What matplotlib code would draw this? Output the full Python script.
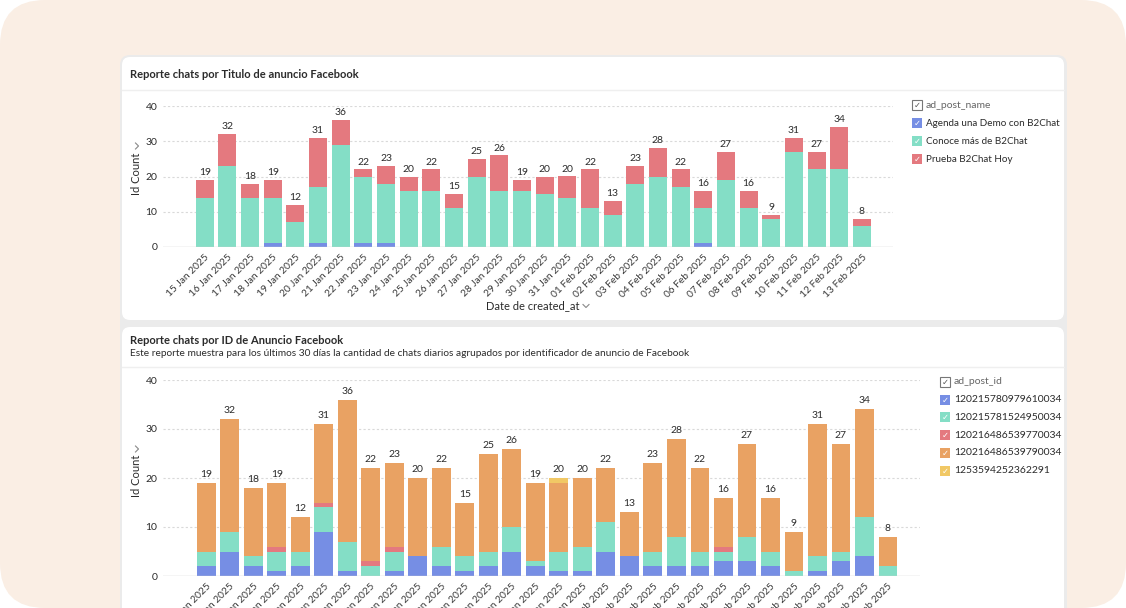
import numpy as np
import matplotlib
matplotlib.use("Agg")
import matplotlib.pyplot as plt
from matplotlib.patches import FancyBboxPatch, Rectangle

plt.rcParams["font.family"] = ["Lato", "DejaVu Sans"]

# ---------------- data ----------------
dates = ["15 Jan 2025", "16 Jan 2025", "17 Jan 2025", "18 Jan 2025", "19 Jan 2025",
         "20 Jan 2025", "21 Jan 2025", "22 Jan 2025", "23 Jan 2025", "24 Jan 2025",
         "25 Jan 2025", "26 Jan 2025", "27 Jan 2025", "28 Jan 2025", "29 Jan 2025",
         "30 Jan 2025", "31 Jan 2025", "01 Feb 2025", "02 Feb 2025", "03 Feb 2025",
         "04 Feb 2025", "05 Feb 2025", "06 Feb 2025", "07 Feb 2025", "08 Feb 2025",
         "09 Feb 2025", "10 Feb 2025", "11 Feb 2025", "12 Feb 2025", "13 Feb 2025"]

# top chart: by ad title
agenda = [0, 0, 0, 1, 0, 1, 0, 1, 1, 0, 0, 0, 0, 0, 0, 0, 0, 0, 0, 0, 0, 0, 1, 0, 0, 0, 0, 0, 0, 0]
conoce = [14, 23, 14, 13, 7, 16, 29, 19, 17, 16, 16, 11, 20, 16, 16, 15, 14, 11, 9, 18, 20, 17, 10, 19, 11, 8, 27, 22, 22, 6]
prueba = [5, 9, 4, 5, 5, 14, 7, 2, 5, 4, 6, 4, 5, 10, 3, 5, 6, 11, 4, 5, 8, 5, 5, 8, 5, 1, 4, 5, 12, 2]
title_names = ["Agenda una Demo con B2Chat", "Conoce más de B2Chat", "Prueba B2Chat Hoy"]

# bottom chart: by ad id
id_a = [2, 5, 2, 1, 2, 9, 1, 0, 1, 4, 2, 1, 2, 5, 2, 1, 1, 5, 4, 2, 2, 2, 3, 3, 2, 0, 1, 3, 4, 0]
id_b = [3, 4, 2, 4, 3, 5, 6, 2, 4, 0, 4, 3, 3, 5, 1, 4, 5, 6, 0, 3, 6, 3, 2, 5, 3, 1, 3, 2, 8, 2]
id_c = [0, 0, 0, 1, 0, 1, 0, 1, 1, 0, 0, 0, 0, 0, 0, 0, 0, 0, 0, 0, 0, 0, 1, 0, 0, 0, 0, 0, 0, 0]
id_d = [14, 23, 14, 13, 7, 16, 29, 19, 17, 16, 16, 11, 20, 16, 16, 14, 14, 11, 9, 18, 20, 17, 10, 19, 11, 8, 27, 22, 22, 6]
id_e = [0, 0, 0, 0, 0, 0, 0, 0, 0, 0, 0, 0, 0, 0, 0, 1, 0, 0, 0, 0, 0, 0, 0, 0, 0, 0, 0, 0, 0, 0]
id_names = ["120215780979610034", "120215781524950034", "120216486539770034",
            "120216486539790034", "1253594252362291"]

BLUE = "#768ee4"
TEAL = "#84dec6"
RED = "#e4797f"
ORANGE = "#e9a263"
YELLOW = "#f1c865"
TXT = "#2b2b2b"

W, H = 1126, 608
fig = plt.figure(figsize=(W / 100, H / 100), dpi=100)
fig.patch.set_facecolor("white")

# background axes in pixel coords
bg = fig.add_axes([0, 0, 1, 1])
bg.set_xlim(0, W)
bg.set_ylim(H, 0)
bg.axis("off")

bg.add_patch(FancyBboxPatch((0, 0), W, H, boxstyle="round,pad=0,rounding_size=45",
                            fc="#faeee4", ec="none"))
bg.add_patch(FancyBboxPatch((120, 55), 947, 600, boxstyle="round,pad=0,rounding_size=10",
                            fc="#ebebeb", ec="none"))
bg.add_patch(FancyBboxPatch((122, 57), 942, 263, boxstyle="round,pad=0,rounding_size=8",
                            fc="white", ec="none"))
bg.add_patch(FancyBboxPatch((122, 327), 942, 320, boxstyle="round,pad=0,rounding_size=8",
                            fc="white", ec="none"))
bg.plot([122, 1064], [90, 90], color="#efefef", lw=1)
bg.plot([122, 1064], [367, 367], color="#efefef", lw=1)

bg.text(130, 74, "Reporte chats por Titulo de anuncio Facebook", fontsize=8,
        fontweight="bold", color=TXT, va="center")
bg.text(130, 341, "Reporte chats por ID de Anuncio Facebook", fontsize=8,
        fontweight="bold", color=TXT, va="center")
bg.text(130, 354, "Este reporte muestra para los últimos 30 días la cantidad de chats "
        "diarios agrupados por identificador de anuncio de Facebook",
        fontsize=7.3, color=TXT, va="center")


def chevron(x, y, s=3, right=False):
    if right:
        bg.plot([x - s / 2, x + s / 2, x - s / 2], [y - s, y, y + s], color="#888", lw=0.8)
    else:
        bg.plot([x - s, x, x + s], [y - s / 2, y + s / 2, y - s / 2], color="#888", lw=0.8)


def px_axes(x0, y0, x1, y1):
    return fig.add_axes([x0 / W, 1 - y1 / H, (x1 - x0) / W, (y1 - y0) / H])


def stacked(ax, series, colors, xmax):
    x = np.arange(len(dates))
    bottom = np.zeros(len(dates))
    for vals, col in zip(series, colors):
        ax.bar(x, vals, bottom=bottom, width=0.79, color=col, zorder=2)
        bottom += np.array(vals)
    for xi, t in zip(x, bottom):
        ax.text(xi, t + 0.8, f"{int(t)}", ha="center", va="bottom", fontsize=7.5, color=TXT)
    ax.set_xlim(-1.84, xmax)
    ax.set_ylim(0, 40)
    ax.set_yticks([0, 10, 20, 30, 40])
    for g in [10, 20, 30, 40]:
        ax.axhline(g, color="#d9d9d9", lw=0.8, ls=(0, (2, 2)), zorder=0)
    ax.axhline(0, color="#cfcfcf", lw=1, zorder=3)
    ax.set_xticks(x)
    ax.set_xticklabels(dates, rotation=45, ha="right", rotation_mode="anchor",
                       fontsize=7.3, color="#3a3a3a")
    ax.tick_params(axis="y", length=0, pad=4, labelsize=7.5, labelcolor=TXT)
    ax.tick_params(axis="x", length=0, pad=4)
    for s in ax.spines.values():
        s.set_visible(False)
    ax.patch.set_alpha(0)


ax1 = px_axes(163, 106, 893, 247)
stacked(ax1, [agenda, conoce, prueba], [BLUE, TEAL, RED], 30.37)

ax2 = px_axes(163, 380, 920, 576)
stacked(ax2, [id_a, id_b, id_c, id_d, id_e], [BLUE, TEAL, RED, ORANGE, YELLOW], 30.37)

# axis titles
bg.text(137, 174, "Id Count", rotation=90, fontsize=8, color=TXT, ha="center", va="center")
chevron(137, 146, right=True)
bg.text(137, 476, "Id Count", rotation=90, fontsize=8, color=TXT, ha="center", va="center")
chevron(137, 449, right=True)
bg.text(533, 306, "Date de created_at", fontsize=8, color=TXT, ha="center", va="center")
chevron(586, 306)


def legend(x, y0, header, names, colors, step=18, fs=7.5):
    bg.add_patch(Rectangle((x, y0 - 5), 10, 10, fc="white", ec="#777", lw=0.8))
    bg.text(x + 5, y0 + 0.5, "✓", fontsize=6, color="#555", ha="center", va="center",
            family="DejaVu Sans")
    bg.text(x + 14, y0, header, fontsize=7.5, color="#666", va="center")
    for i, (n, c) in enumerate(zip(names, colors)):
        yy = y0 + step * (i + 1)
        bg.add_patch(Rectangle((x, yy - 5), 10, 10, fc=c, ec="none"))
        bg.text(x + 5, yy + 0.5, "✓", fontsize=6, color="white", ha="center", va="center",
                family="DejaVu Sans")
        bg.text(x + 14, yy, n, fontsize=fs, color=TXT, va="center")


legend(912, 105, "ad_post_name", title_names, [BLUE, TEAL, RED], fs=7.1)
legend(940, 382, "ad_post_id", id_names, [BLUE, TEAL, RED, ORANGE, YELLOW], step=17.7)

fig.savefig("out.png", dpi=100)
